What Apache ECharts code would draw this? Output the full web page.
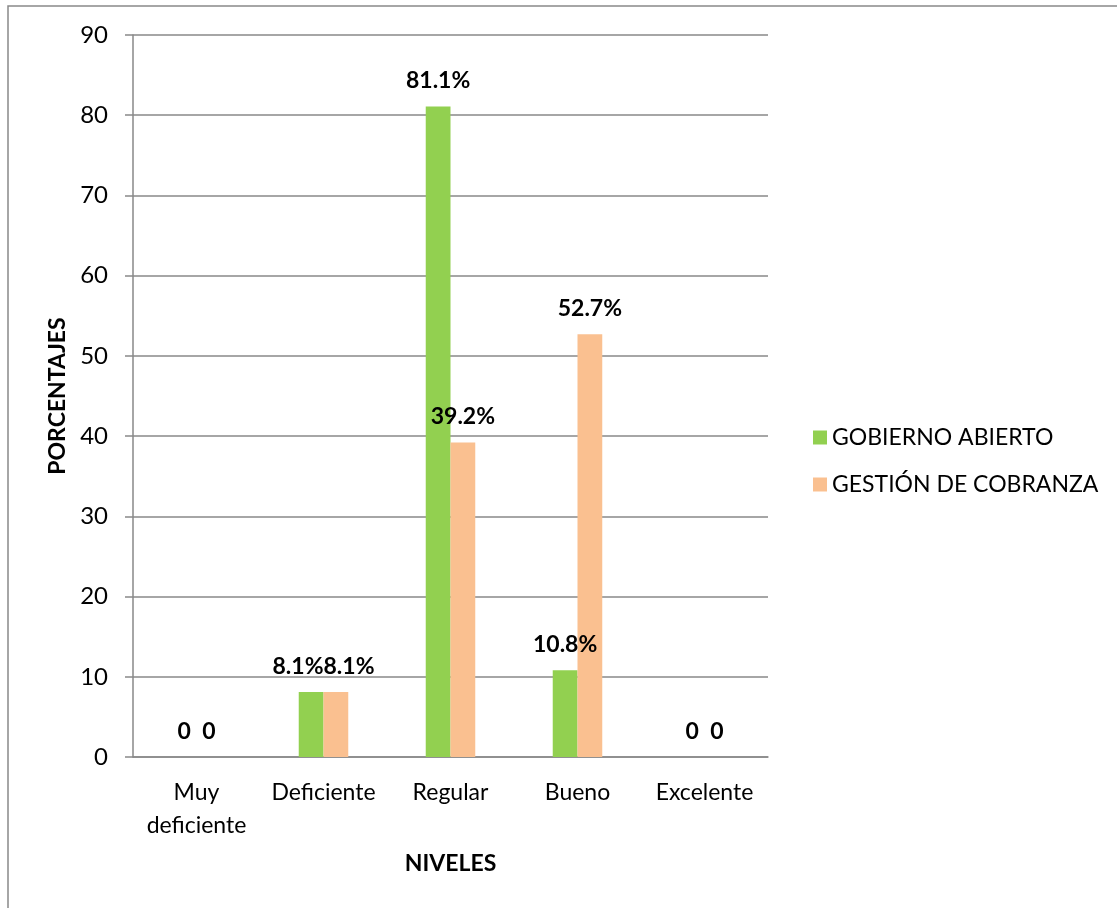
<!DOCTYPE html>
<html lang="es">
  <head>
    <meta charset="UTF-8" />
    <title>Niveles</title>
    <script src="https://cdn.jsdelivr.net/npm/echarts@6.0.0/dist/echarts.min.js"></script>
    <style>
      html, body { margin: 0; padding: 0; background: #fff; }
    </style>
  </head>
  <body>
    <div id="main" style="width: 1117px; height: 908px"></div>
    <script type="text/javascript">
      // datos
      const niveles = ['Muy\ndeficiente', 'Deficiente', 'Regular', 'Bueno', 'Excelente'];
      const gobiernoAbierto = [0, 8.1, 81.1, 10.8, 0];
      const gestionCobranza = [0, 8.1, 39.2, 52.7, 0];
      const yTicks = { min: 0, max: 90, interval: 10 };

      const font = 'Lato';
      const grey = '#898989';

      let myChart = echarts.init(document.getElementById('main'));

      // 0 se muestra sin %, el resto con %
      const fmtLabel = (p) => (p.value === 0 ? '0' : p.value + '%');

      const labelStyle = {
        show: true,
        position: 'top',
        distance: 14,
        formatter: fmtLabel,
        fontFamily: font,
        fontWeight: 'bold',
        fontSize: 23,
        color: '#000'
      };

      // si las dos etiquetas quedan a la misma altura, separarlas a los lados
      const separar = (p) => {
        const i = p.dataIndex;
        const a = gobiernoAbierto[i], b = gestionCobranza[i];
        if (a === 0 || Math.abs(a - b) > 2) return {};
        const shift = Math.max(0, p.labelRect.width / 2 - p.rect.width / 2);
        return { dx: p.seriesIndex === 0 ? -shift : shift };
      };

      let options = {
        animation: false,
        textStyle: { fontFamily: font },
        graphic: [
          {
            type: 'rect',
            shape: { x: 8, y: 6, width: 1300, height: 1100 },
            style: { fill: 'none', stroke: grey, lineWidth: 1.5 }
          }
        ],
        grid: { left: 133, right: 349, top: 35, bottom: 151 },
        legend: {
          orient: 'vertical',
          left: 808,
          top: 421,
          icon: 'rect',
          itemWidth: 14,
          itemHeight: 14,
          itemGap: 24,
          textStyle: { fontFamily: font, fontSize: 23, color: '#000' },
          data: ['GOBIERNO ABIERTO', 'GESTIÓN DE COBRANZA']
        },
        xAxis: {
          type: 'category',
          data: niveles,
          name: 'NIVELES',
          nameLocation: 'middle',
          nameGap: 95,
          nameTextStyle: { fontFamily: font, fontWeight: 'bold', fontSize: 23, color: '#000' },
          axisLine: { lineStyle: { color: grey, width: 1.5 } },
          axisTick: { show: false },
          axisLabel: { interval: 0, margin: 19, fontFamily: font, fontSize: 23, color: '#000', lineHeight: 33 }
        },
        yAxis: {
          type: 'value',
          min: yTicks.min,
          max: yTicks.max,
          interval: yTicks.interval,
          name: 'PORCENTAJES',
          nameLocation: 'middle',
          nameGap: 62,
          nameTextStyle: { fontFamily: font, fontWeight: 'bold', fontSize: 23, color: '#000' },
          axisLine: { show: true, lineStyle: { color: grey, width: 1.5 } },
          axisTick: { show: true, length: 8, lineStyle: { color: grey, width: 1.5 } },
          axisLabel: { margin: 25, fontFamily: font, fontSize: 24, color: '#000' },
          splitLine: { lineStyle: { color: grey, width: 1.5 } }
        },
        series: [
          {
            name: 'GOBIERNO ABIERTO',
            type: 'bar',
            data: gobiernoAbierto,
            barGap: '0%',
            barCategoryGap: '61%',
            itemStyle: { color: '#92D050' },
            label: labelStyle,
            labelLayout: separar
          },
          {
            name: 'GESTIÓN DE COBRANZA',
            type: 'bar',
            data: gestionCobranza,
            itemStyle: { color: '#FAC090' },
            label: labelStyle,
            labelLayout: separar
          }
        ]
      };

      myChart.setOption(options);
    </script>
  </body>
</html>
